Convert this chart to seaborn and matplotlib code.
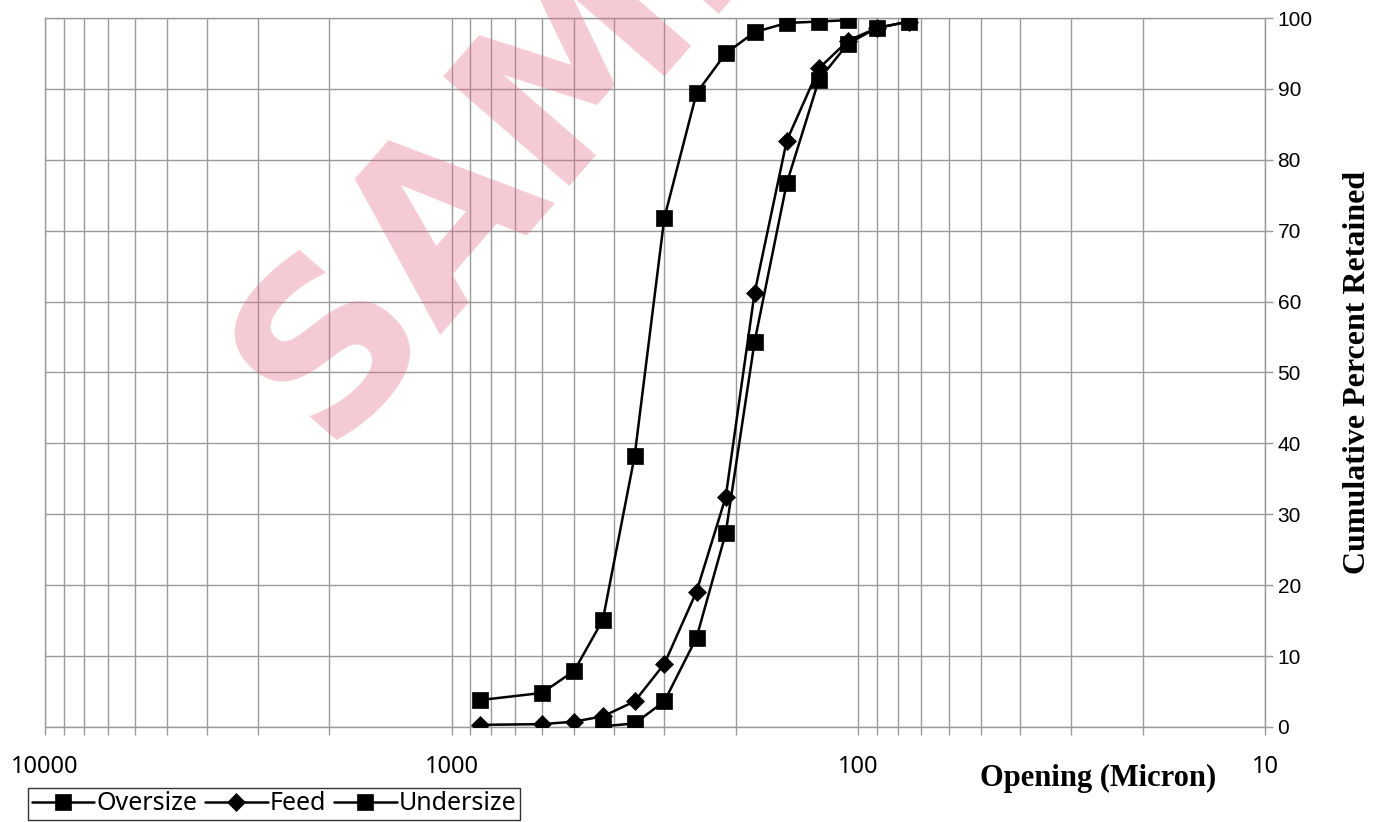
import pandas as pd
import matplotlib
matplotlib.use('Agg')
import matplotlib.pyplot as plt
import matplotlib.ticker as mticker
import seaborn as sns

# sieve openings (micron) and cumulative % retained
opening_over = [850, 600, 500, 425, 355, 300, 250, 212, 180, 150, 125, 106]
oversize = [3.8, 4.8, 7.9, 15.1, 38.2, 71.8, 89.4, 95.0, 98.0, 99.3, 99.5, 99.7]

opening_feed = [850, 600, 500, 425, 355, 300, 250, 212, 180, 150, 125, 106, 90, 75]
feed = [0.3, 0.4, 0.75, 1.5, 3.6, 8.9, 19.1, 32.4, 61.2, 82.7, 92.9, 96.8, 98.6, 99.5]

opening_under = [425, 355, 300, 250, 212, 180, 150, 125, 106, 90, 75]
undersize = [0.1, 0.5, 3.6, 12.6, 27.3, 54.3, 76.7, 91.3, 96.4, 98.6, 99.5]

series_names = ['Oversize', 'Feed', 'Undersize']
x_ticks = [10000, 1000, 100, 10]
y_ticks = list(range(0, 101, 10))

df = pd.concat([
    pd.DataFrame({'opening': opening_over, 'retained': oversize, 'series': 'Oversize'}),
    pd.DataFrame({'opening': opening_feed, 'retained': feed, 'series': 'Feed'}),
    pd.DataFrame({'opening': opening_under, 'retained': undersize, 'series': 'Undersize'}),
])

sns.set_theme(style='white')
plt.rcParams['font.family'] = ['Noto Sans', 'DejaVu Sans']
plt.rcParams['text.color'] = 'black'
plt.rcParams['axes.labelcolor'] = 'black'

grid_col = '#9a9a9a'

fig = plt.figure(figsize=(13.86, 8.22), dpi=100)
ax = fig.add_axes([0.0325, 0.1156, 0.8802, 0.8625])

sns.lineplot(
    data=df, x='opening', y='retained', hue='series', style='series',
    hue_order=series_names, style_order=series_names,
    palette={'Oversize': 'black', 'Feed': 'black', 'Undersize': 'black'},
    markers={'Oversize': 's', 'Feed': 'D', 'Undersize': 's'},
    dashes=False, markersize=11, markeredgecolor='black', markeredgewidth=0.5,
    linewidth=1.8, errorbar=None, ax=ax, zorder=3,
)
# diamond markers slightly smaller
for line in ax.get_lines():
    if line.get_marker() == 'D':
        line.set_markersize(9)

ax.set_xscale('log')
ax.set_xlim(10000, 10)
ax.set_ylim(0, 100)

ax.xaxis.set_major_locator(mticker.FixedLocator(x_ticks))
ax.xaxis.set_major_formatter(mticker.FuncFormatter(lambda v, p: f'{int(v)}'))
ax.xaxis.set_minor_locator(mticker.LogLocator(base=10, subs=range(2, 10)))
ax.xaxis.set_minor_formatter(mticker.NullFormatter())
ax.set_yticks(y_ticks)

ax.yaxis.tick_right()
ax.yaxis.set_label_position('right')

ax.grid(True, which='both', axis='x', color=grid_col, linewidth=1.0)
ax.grid(True, which='major', axis='y', color=grid_col, linewidth=1.0)
ax.set_axisbelow(True)

for s in ax.spines.values():
    s.set_color(grid_col)
    s.set_linewidth(1.0)

ax.tick_params(axis='x', which='both', bottom=True, direction='out', length=6,
               color=grid_col, width=1.0, pad=14, labelsize=17, labelcolor='black')
ax.tick_params(axis='y', which='major', right=True, left=False, direction='out',
               length=6, color=grid_col, width=1.0, pad=3, labelsize=15,
               labelcolor='black')
for lab in ax.get_yticklabels():
    lab.set_fontfamily('Liberation Sans')

ax.set_xlabel('Opening (Micron)', fontfamily='Liberation Serif', fontweight='bold',
              fontsize=22, color='black')
ax.xaxis.set_label_coords((1098 - 45) / 1220, (727 - 778) / 709)
ax.xaxis.label.set_va('center')

ax.set_ylabel('Cumulative Percent Retained', fontfamily='Liberation Serif',
              fontweight='bold', fontsize=23, rotation=90, color='black')
ax.yaxis.set_label_coords((1358 - 45) / 1220, (727 - 372) / 709)
ax.yaxis.label.set_va('center')

leg = ax.legend(loc='lower left', bbox_to_anchor=(28 / 1386, 2 / 822),
                bbox_transform=fig.transFigure, ncol=3, frameon=True,
                fontsize=18, handlelength=2.5, handletextpad=0.1,
                columnspacing=0.3, borderpad=0.15, borderaxespad=0,
                fancybox=False)
leg.get_frame().set_edgecolor('black')
leg.get_frame().set_linewidth(1.0)

# watermark
fig.text(326 / 1386, 1 - 447 / 822, 'SAMPLE', rotation=49, rotation_mode='anchor',
         ha='left', va='baseline', fontsize=165, fontfamily='DejaVu Sans',
         fontweight='bold', color='#e06a88', alpha=0.35, zorder=10)

fig.savefig('out.png', dpi=100)
